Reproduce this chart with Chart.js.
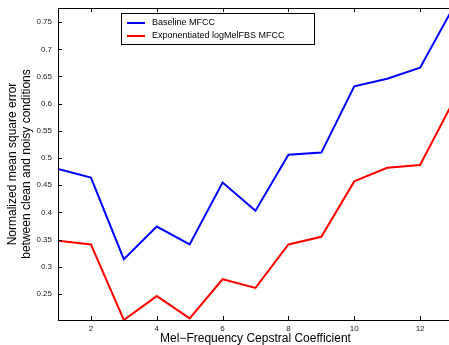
<!DOCTYPE html>
<html>
<head>
<meta charset="utf-8">
<script src="https://cdn.jsdelivr.net/npm/chart.js@4/dist/chart.umd.min.js"></script>
<style>
    html, body { margin: 0; padding: 0; background: #fff; overflow: hidden; }
    #wrap { position: relative; width: 454px; height: 345px; }
</style>
</head>
<body>
<div id="wrap"><canvas id="mseChart"></canvas></div>
<script>
// Datos
const coefficients  = [1, 2, 3, 4, 5, 6, 7, 8, 9, 10, 11, 12, 13];
const baselineMfcc  = [0.480, 0.464, 0.314, 0.374, 0.341, 0.455, 0.403, 0.506, 0.510, 0.632, 0.646, 0.666, 0.776];
const expLogMelMfcc = [0.348, 0.341, 0.202, 0.246, 0.205, 0.277, 0.261, 0.341, 0.355, 0.457, 0.482, 0.487, 0.603];
const xTicks = [2, 4, 6, 8, 10, 12];
const yTicks = [0.25, 0.3, 0.35, 0.4, 0.45, 0.5, 0.55, 0.6, 0.65, 0.7, 0.75];
const seriesNames = ['Baseline MFCC', 'Exponentiated logMelFBS MFCC'];
const seriesColors = ['#0000ff', '#ff0000'];
const xTitle = 'Mel\u2212Frequency Cepstral Coefficient';
const yTitle = ['Normalized mean square error', 'between clean and noisy conditions'];

const FONT = 'Liberation Sans, Arial, Helvetica, sans-serif';

// Marco estilo MATLAB: borde completo, ticks hacia dentro, títulos y leyenda
const matlabFrame = {
    id: 'matlabFrame',
    afterDraw(chart) {
        const { ctx, chartArea: a, scales: { x, y } } = chart;
        ctx.save();
        ctx.strokeStyle = '#000';
        ctx.lineWidth = 1;
        ctx.strokeRect(a.left + 0.5, a.top + 0.5, a.right - a.left - 1, a.bottom - a.top);

        ctx.beginPath();
        xTicks.forEach(v => {
            const px = Math.round(x.getPixelForValue(v)) + 0.5;
            ctx.moveTo(px, a.bottom); ctx.lineTo(px, a.bottom - 4);
            ctx.moveTo(px, a.top);    ctx.lineTo(px, a.top + 4);
        });
        yTicks.forEach(v => {
            const py = Math.round(y.getPixelForValue(v)) + 0.5;
            ctx.moveTo(a.left, py);  ctx.lineTo(a.left + 4, py);
            ctx.moveTo(a.right, py); ctx.lineTo(a.right - 4, py);
        });
        ctx.stroke();

        // títulos de ejes
        ctx.fillStyle = '#000';
        ctx.font = '12px ' + FONT;
        ctx.textAlign = 'center';
        ctx.textBaseline = 'middle';
        ctx.fillText(xTitle, (a.left + a.right) / 2, 339);

        ctx.save();
        ctx.translate(0, (a.top + a.bottom) / 2);
        ctx.rotate(-Math.PI / 2);
        ctx.fillText(yTitle[0], 0, 13);
        ctx.fillText(yTitle[1], 0, 27);
        ctx.restore();

        // leyenda
        ctx.fillStyle = '#fff';
        ctx.fillRect(121, 13, 193, 31);
        ctx.strokeRect(121.5, 13.5, 193, 31);
        ctx.font = '9px ' + FONT;
        ctx.textAlign = 'left';
        seriesNames.forEach((name, i) => {
            const ly = 23 + i * 13;
            ctx.strokeStyle = seriesColors[i];
            ctx.lineWidth = 2;
            ctx.beginPath();
            ctx.moveTo(127, ly); ctx.lineTo(145, ly);
            ctx.stroke();
            ctx.fillStyle = '#000';
            ctx.fillText(name, 152, ly);
        });
        ctx.restore();
    }
};

new Chart(document.getElementById('mseChart'), {
    type: 'line',
    data: {
        labels: coefficients,
        datasets: [
            {
                label: seriesNames[0],
                data: coefficients.map((c, i) => ({ x: c, y: baselineMfcc[i] })),
                borderColor: seriesColors[0],
                borderWidth: 2,
                pointRadius: 0,
                tension: 0,
            },
            {
                label: seriesNames[1],
                data: coefficients.map((c, i) => ({ x: c, y: expLogMelMfcc[i] })),
                borderColor: seriesColors[1],
                borderWidth: 2,
                pointRadius: 0,
                tension: 0,
            }
        ]
    },
    options: {
        responsive: true,
        maintainAspectRatio: false,
        animation: false,
        layout: { padding: { top: 8, right: 1, left: 0, bottom: 0 } },
        plugins: {
            legend: { display: false },
            tooltip: { enabled: false },
        },
        scales: {
            x: {
                type: 'linear',
                min: 1,
                max: 13,
                grid: { display: false, drawTicks: false },
                border: { display: false },
                afterBuildTicks: s => { s.ticks = xTicks.map(v => ({ value: v })); },
                afterFit: s => { s.height = 25; s.paddingLeft = 0; s.paddingRight = 0; },
                ticks: {
                    color: '#222',
                    font: { family: FONT, size: 8 },
                    padding: 4,
                    maxRotation: 0,
                }
            },
            y: {
                min: 0.202,
                max: 0.776,
                grid: { display: false, drawTicks: false },
                border: { display: false },
                afterBuildTicks: s => { s.ticks = yTicks.map(v => ({ value: v })); },
                afterFit: s => { s.width = 58; s.paddingTop = 0; s.paddingBottom = 0; },
                ticks: {
                    color: '#222',
                    font: { family: FONT, size: 8 },
                    padding: 6,
                    callback: v => String(+v.toFixed(2)),
                }
            }
        }
    },
    plugins: [matlabFrame]
});
</script>
</body>
</html>
